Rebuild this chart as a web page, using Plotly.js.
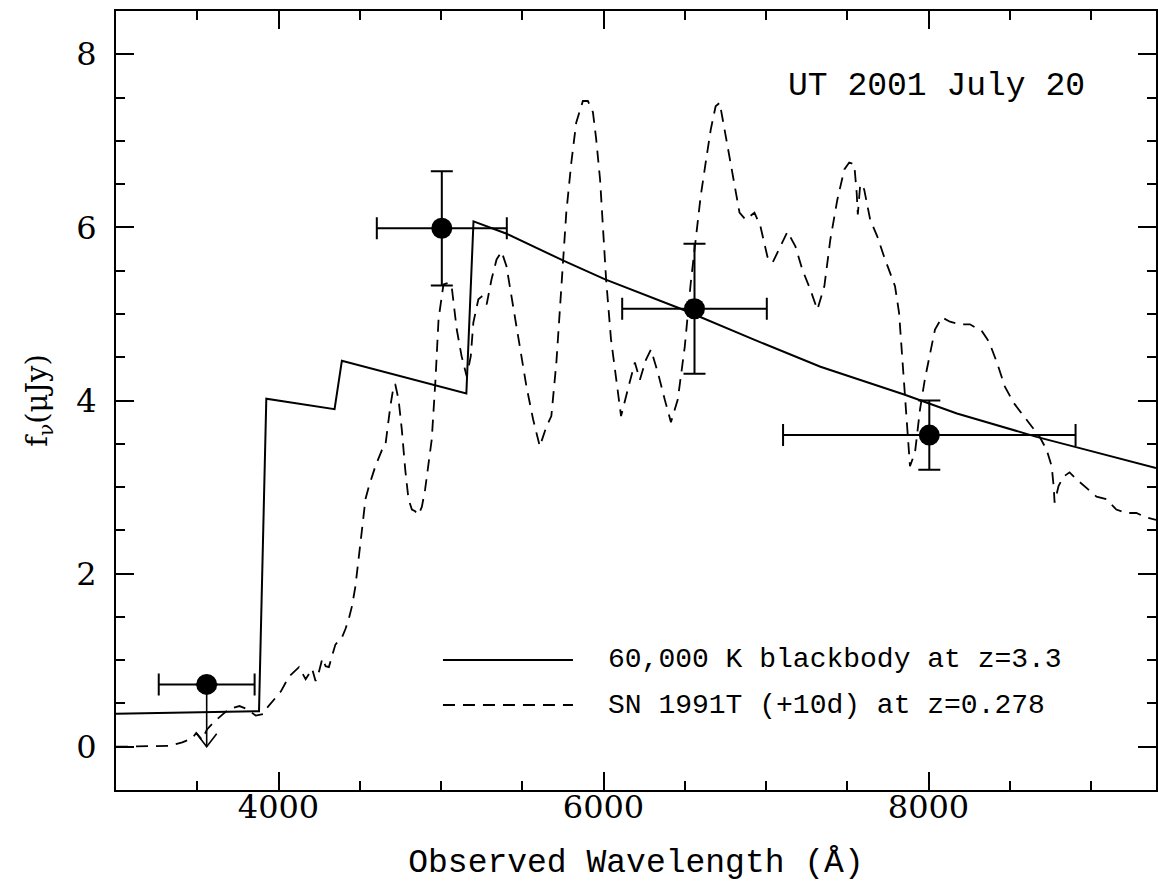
<!DOCTYPE html>
<html>
<head>
<meta charset="utf-8">
<script src="https://cdn.plot.ly/plotly-3.0.1.min.js"></script>
<style>
html,body{margin:0;padding:0;background:#fff;}
#chart{width:1158px;height:882px;}
</style>
</head>
<body>
<div id="chart"></div>
<script>
// SN 1991T (+10d) spectrum redshifted to z=0.278 (dashed)
var snWave = [3000,3330,3408,3470,3494,3530,3560,3600,3660,3700,3760,3800,3860,3910,3930,3960,4015,4064,4126,4167,4207,4228,4248,4270,4290,4310,4330,4350,4392,4412,4433,4453,4473,4494,4514,4535,4555,4596,4637,4657,4668,4688,4708,4718,4739,4759,4780,4800,4821,4841,4861,4882,4902,4923,4943,4966,4985,5015,5046,5066,5097,5127,5158,5183,5199,5230,5250,5281,5311,5342,5373,5403,5444,5485,5526,5567,5608,5649,5679,5710,5740,5771,5802,5832,5873,5904,5935,5955,5979,5996,6016,6046,6077,6108,6150,6193,6224,6261,6292,6335,6377,6415,6457,6500,6537,6568,6598,6629,6660,6690,6715,6745,6776,6807,6837,6874,6929,6966,7009,7040,7083,7132,7181,7224,7273,7316,7359,7396,7439,7482,7512,7543,7558,7565,7580,7604,7641,7684,7727,7764,7794,7819,7837,7856,7868,7886,7917,7948,7978,8009,8040,8083,8132,8193,8255,8329,8372,8421,8470,8525,8586,8635,8684,8727,8758,8770,8776,8800,8831,8868,8911,8972,9034,9095,9156,9218,9279,9340,9400];
var snFlux = [0.00,0.01,0.05,0.10,0.16,0.08,0.20,0.28,0.38,0.44,0.47,0.44,0.36,0.38,0.45,0.52,0.64,0.81,0.92,0.78,0.90,0.76,0.86,1.02,0.93,0.92,1.04,1.18,1.27,1.36,1.48,1.63,1.85,2.16,2.51,2.86,3.00,3.24,3.43,3.47,3.66,3.93,4.16,4.19,4.01,3.66,3.20,2.86,2.74,2.72,2.68,2.77,2.97,3.24,3.55,4.24,4.94,5.34,5.36,5.31,4.82,4.51,4.28,4.51,4.90,5.17,5.20,5.11,5.40,5.63,5.72,5.55,5.09,4.62,4.16,3.78,3.47,3.70,3.82,4.44,5.32,6.17,6.75,7.21,7.46,7.46,7.33,7.02,6.55,5.98,5.40,4.71,4.24,3.82,4.13,4.44,4.24,4.47,4.59,4.32,4.01,3.75,4.01,4.62,5.36,5.86,6.36,6.75,7.13,7.40,7.44,7.13,6.82,6.47,6.17,6.09,6.17,6.01,5.66,5.59,5.75,5.95,5.78,5.51,5.28,5.05,5.32,5.86,6.32,6.67,6.75,6.73,6.40,6.15,6.50,6.44,6.09,5.90,5.66,5.48,5.32,5.01,4.55,4.05,3.66,3.24,3.40,3.90,4.25,4.55,4.82,4.96,4.91,4.88,4.88,4.80,4.68,4.44,4.16,3.97,3.82,3.70,3.58,3.43,3.24,3.01,2.82,3.01,3.12,3.17,3.09,2.99,2.89,2.86,2.74,2.70,2.70,2.65,2.62];

// 60,000 K blackbody at z=3.3 (solid)
var bbWave = [3000,3880,3925,4345,4390,5156,5200,5400,5760,6010,6475,6930,7335,7850,8175,8665,8890,9400];
var bbFlux = [0.38,0.41,4.02,3.90,4.46,4.08,6.07,5.93,5.61,5.40,5.06,4.70,4.39,4.07,3.85,3.58,3.47,3.22];

// Photometry
var photWave  = [3558, 5005, 6560, 8005];
var photFlux  = [0.72, 5.99, 5.06, 3.60];
var photWErr  = [295, 400, 445, 900];
var photFErr  = [0, 0.66, 0.75, 0.40];
var upperLimitWave = 3558, upperLimitFrom = 0.72, upperLimitTo = 0.0;

var legendLabels = ['60,000 K blackbody at z=3.3', 'SN 1991T (+10d) at z=0.278'];
var dateLabel = 'UT 2001 July 20';

var traces = [
  {x: snWave, y: snFlux, type: 'scatter', mode: 'lines', name: legendLabels[1],
   line: {color: '#000', width: 1.8, dash: '12px,8px'}, hoverinfo: 'skip'},
  {x: bbWave, y: bbFlux, type: 'scatter', mode: 'lines', name: legendLabels[0],
   line: {color: '#000', width: 2}, hoverinfo: 'skip'},
  {x: photWave, y: photFlux, type: 'scatter', mode: 'markers', name: 'photometry',
   marker: {color: '#000', size: 21},
   error_x: {type: 'data', array: photWErr, visible: true, color: '#000', thickness: 2, width: 11},
   error_y: {type: 'data', array: photFErr, visible: true, color: '#000', thickness: 2, width: 11}}
];

var mono = 'Liberation Mono, Courier New, monospace';
var serif = 'DejaVu Serif, serif';

var layout = {
  width: 1158, height: 882,
  margin: {l: 116, r: 2, t: 11, b: 92},
  paper_bgcolor: '#fff', plot_bgcolor: '#fff',
  showlegend: false,
  xaxis: {
    range: [3000, 9400], tickmode: 'linear', tick0: 0, dtick: 2000,
    ticks: 'inside', ticklen: 18, tickwidth: 2, tickcolor: '#000',
    minor: {dtick: 500, ticks: 'inside', ticklen: 9, tickwidth: 2, tickcolor: '#000', showgrid: false},
    showline: true, linecolor: '#000', linewidth: 2, mirror: 'allticks',
    showgrid: false, zeroline: false,
    tickfont: {family: serif, size: 32, color: '#000'},
    ticklabelstandoff: -12,
    title: {text: 'Observed Wavelength (Å)', font: {family: mono, size: 33, color: '#000'}, standoff: 24}
  },
  yaxis: {
    range: [-0.5, 8.5], tickmode: 'linear', tick0: 0, dtick: 2,
    ticks: 'inside', ticklen: 18, tickwidth: 2, tickcolor: '#000',
    minor: {dtick: 0.5, ticks: 'inside', ticklen: 9, tickwidth: 2, tickcolor: '#000', showgrid: false},
    showline: true, linecolor: '#000', linewidth: 2, mirror: 'allticks',
    showgrid: false, zeroline: false,
    tickfont: {family: serif, size: 32, color: '#000'},
    ticklabelstandoff: 11,
    title: {text: 'f<sub>ν</sub>(μJy)', font: {family: serif, size: 29, color: '#000'}, standoff: 20}
  },
  shapes: [
    // upper-limit arrow: shaft from the measured point down to the limit
    {type: 'line', xref: 'x', yref: 'y', x0: upperLimitWave, x1: upperLimitWave,
     y0: upperLimitFrom, y1: upperLimitTo, line: {color: '#000', width: 1.6}},
    // open chevron arrow head anchored at the limit
    {type: 'path', xref: 'x', yref: 'y', xsizemode: 'pixel', ysizemode: 'pixel',
     xanchor: upperLimitWave, yanchor: upperLimitTo,
     path: 'M-10,13L0,0L10,13', line: {color: '#000', width: 1.6}},
    // legend keys
    {type: 'line', xref: 'paper', yref: 'paper', x0: 0.3144, x1: 0.4394, y0: 0.1669, y1: 0.1669,
     line: {color: '#000', width: 2}},
    {type: 'line', xref: 'paper', yref: 'paper', x0: 0.3144, x1: 0.4394, y0: 0.1091, y1: 0.1091,
     line: {color: '#000', width: 1.8, dash: '12px,8px'}}
  ],
  annotations: [
    {xref: 'paper', yref: 'paper', x: 0.4712, y: 0.1669, xanchor: 'left', yanchor: 'middle',
     text: legendLabels[0], showarrow: false, font: {family: mono, size: 28, color: '#000'}},
    {xref: 'paper', yref: 'paper', x: 0.4712, y: 0.1091, xanchor: 'left', yanchor: 'middle',
     text: legendLabels[1], showarrow: false, font: {family: mono, size: 28, color: '#000'}},
    {xref: 'paper', yref: 'paper', x: 0.644, y: 0.9037, xanchor: 'left', yanchor: 'middle',
     text: dateLabel, showarrow: false, font: {family: mono, size: 33, color: '#000'}}
  ]
};

Plotly.newPlot('chart', traces, layout, {staticPlot: true, displayModeBar: false});
</script>
</body>
</html>
